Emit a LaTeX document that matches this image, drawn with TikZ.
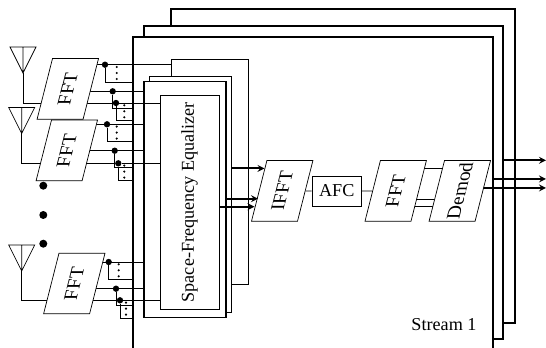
\documentclass[tikz,border=0pt]{standalone}
\usepackage{fontspec}
\setmainfont{Liberation Serif}
\usetikzlibrary{backgrounds, arrows}
\tikzstyle{frameLine} = [draw=black, line width=1pt, fill=white]
\tikzstyle{thinLine} = [draw=black, line width=0.6pt]
\tikzstyle{normalArrow} = [line width=1.6pt,->,>=stealth, draw=black]
\tikzstyle{normalBox} = [shape=rectangle, draw=black, line width=0.6pt, fill=white, inner sep=0pt, align=center]
\tikzstyle{paraBox} = [normalBox, minimum width=1.38cm, minimum height=1.82cm, xslant=0.254, transform shape, font=\fontsize{16.5}{20}\selectfont]
\tikzstyle{tapDot} = [shape=circle, fill=black, inner sep=0pt, minimum size=0.19cm]
\tikzstyle{bigDot} = [shape=circle, fill=black, inner sep=0pt, minimum size=0.24cm]
\newcommand{\antenna}[2]{%
  \draw[thinLine] (#1,#2) ++(-13,-26) -- ++(26,0) -- (#1,#2) -- cycle (#1,#2) -- ++(0,-26);
}

\begin{document}
\begin{tikzpicture}[x=0.03cm, y=-0.03cm, font=\fontsize{15.5}{18}\selectfont]
  \useasboundingbox (0,0) rectangle (546,348);

  % FFT blocks
  \node (fftA) at (67.8,88.9) [paraBox] {\rotatebox{90}{FFT}};
  \node (fftB) at (66.8,150.4) [paraBox] {\rotatebox{90}{FFT}};
  \node (fftC) at (74.3,283.5) [paraBox] {\rotatebox{90}{FFT}};

  \node (moreA) at (43.3,185.7) [bigDot] {};
  \node (moreB) at (43.3,215) [bigDot] {};
  \node (moreC) at (43.3,243.7) [bigDot] {};

  \coordinate (antA) at (23,73);
  \coordinate (antB) at (21.7,133.5);
  \coordinate (antC) at (21.7,271);
  \antenna{23}{73}
  \antenna{21.7}{133.5}
  \antenna{21.7}{271}

  % chain behind the equalizer
  \node (ifft) at (282.2,190.9) [paraBox] {\rotatebox{90}{IFFT}};
  \node (afc) at (336.8,191) [normalBox, minimum width=1.49cm, minimum height=0.9cm] {AFC};
  \node (fftD) at (395.7,190.9) [paraBox] {\rotatebox{90}{FFT}};
  \node (demod) at (459.8,190.9) [paraBox] {\rotatebox{90}{Demod}};

  \node (stream) at (444,325) {Stream 1};

  \begin{pgfonlayer}{background}
    \node (frameC) at (343,166) [normalBox, line width=1pt, minimum width=10.32cm, minimum height=9.42cm] {};
    \node (frameB) at (323.5,182.5) [normalBox, line width=1pt, minimum width=10.77cm, minimum height=9.39cm] {};
    \coordinate (frameNW) at (133,37);
    \coordinate (frameNE) at (493,37);
    \draw[frameLine] (133,348) -- (frameNW) -- (frameNE) -- (493,348);

    \node (eqBack) at (209.5,171.5) [normalBox, minimum width=2.31cm, minimum height=6.75cm] {};
    \node (eqMid) at (190,194) [normalBox, minimum width=2.46cm, minimum height=7.08cm] {};
    \node (eqOuter) at (185,199.3) [normalBox, line width=1.1pt, minimum width=2.46cm, minimum height=7.08cm] {};
    \node (eqInner) at (189.5,202.2) [normalBox, minimum width=1.77cm, minimum height=6.42cm] {\rotatebox{90}{Space-Frequency Equalizer}};

    % FFT outputs, each with its tap
    \foreach \tapname/\x/\y/\drop/\src/\dest in {
        aA/105/64.7/17.3/fftA/eqBack, aB/112.7/91.3/16.7/fftA/eqOuter,
        bA/107/124.3/16.7/fftB/eqOuter, bB/114.7/150.7/16.6/fftB/eqOuter,
        cA/108.7/262/17.3/fftC/eqOuter, cB/116/288.7/17/fftC/eqOuter} {
      \node (\tapname) at (\x,\y) [tapDot] {};
      \draw[thinLine] (\src |- \tapname) -- (\tapname -| \dest.west);
      \draw[thinLine] (\tapname) -- ++(0,\drop) coordinate (tmp) -- (tmp -| frameNW);
    }
    % the third output starts at the antenna
    \foreach \tapname/\x/\y/\drop/\src in {
        aC/116/103/17/antA, bC/118.3/163.3/16.7/antB, cC/120/300.3/17.7/antC} {
      \node (\tapname) at (\x,\y) [tapDot] {};
      \draw[thinLine] (\src) |- (\tapname) -- (\tapname -| eqInner.west);
      \draw[thinLine] (\tapname) -- ++(0,\drop) coordinate (tmp) -- (tmp -| frameNW);
    }
    \foreach \tapname/\dx in {aA/11.7, aC/8.3, bA/9.7, bC/6, cA/10, cC/6} {
      \fill (\tapname) ++(\dx,2.3) circle (1pt) ++(0,6) circle (1pt) ++(0,6) circle (1pt);
    }

    \draw[thinLine] (ifft) -- (afc);
    \draw[thinLine] (afc) -- (fftD);
    \coordinate (linkA) at (430,168.7);
    \coordinate (linkB) at (430,199);
    \coordinate (linkC) at (430,206.3);
    \draw[thinLine] (fftD |- linkA) -- (demod |- linkA);
    \draw[thinLine] (fftD |- linkB) -- (demod |- linkB);
    \draw[thinLine] (fftD |- linkC) -- (demod |- linkC);

    % stream outputs
    \coordinate (outA) at (546,160.3);
    \coordinate (outB) at (546,179);
    \coordinate (outC) at (546,188);
    \draw[normalArrow] (outA -| frameB.east) -- (outA);
    \draw[normalArrow] (outB -| frameNE) -- (outB);
    \draw[normalArrow] (demod |- outC) -- (outC);
  \end{pgfonlayer}

  % equalizer outputs
  \coordinate (inA) at (264.5,168.4);
  \coordinate (inB) at (258,198.7);
  \coordinate (inC) at (254.5,206.7);
  \draw[normalArrow] (inA -| eqMid.east) -- (inA);
  \draw[normalArrow] (inB -| eqOuter.east) -- (inB);
  \draw[normalArrow] (inC -| eqInner.east) -- (inC);
\end{tikzpicture}
\end{document}
